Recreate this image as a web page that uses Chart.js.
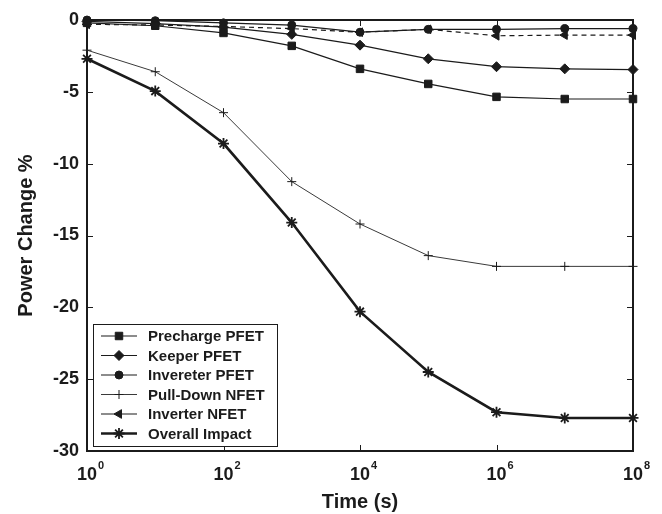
<!DOCTYPE html>
<html>
<head>
<meta charset="utf-8">
<script src="https://cdn.jsdelivr.net/npm/chart.js@4.4.1/dist/chart.umd.min.js"></script>
<style>
  html, body { margin: 0; padding: 0; background: #fff; }
</style>
</head>
<body>
<canvas id="powerchart" width="662" height="514"></canvas>
<script>
// time points, one per decade (s)
var timeSec = [1, 1e1, 1e2, 1e3, 1e4, 1e5, 1e6, 1e7, 1e8];

// power change in % for each device
var prechargePFET = [-0.2, -0.4, -0.9, -1.8, -3.4, -4.45, -5.35, -5.5, -5.5];
var keeperPFET    = [-0.1, -0.25, -0.5, -1.0, -1.75, -2.7, -3.25, -3.4, -3.45];
var invereterPFET = [0, -0.05, -0.2, -0.35, -0.85, -0.65, -0.65, -0.6, -0.6];
var pullDownNFET  = [-2.1, -3.6, -6.45, -11.25, -14.2, -16.4, -17.15, -17.15, -17.15];
var inverterNFET  = [-0.3, -0.35, -0.45, -0.6, -0.85, -0.65, -1.1, -1.05, -1.05];
var overallImpact = [-2.7, -4.95, -8.6, -14.1, -20.3, -24.5, -27.3, -27.7, -27.7];

// axis ticks
var xTickExp = [0, 2, 4, 6, 8];
var yTicks = [0, -5, -10, -15, -20, -25, -30];

var ink = '#1b1b1b';
var fontFam = '"Liberation Sans", Arial, sans-serif';

function toPoints(arr) {
  return arr.map(function (v, i) { return { x: timeSec[i], y: v }; });
}

function series(label, data, style) {
  return Object.assign({
    label: label,
    data: toPoints(data),
    borderColor: ink,
    backgroundColor: ink,
    pointBackgroundColor: ink,
    pointBorderColor: ink,
    borderWidth: 1.2,
    pointBorderWidth: 1,
    pointRadius: 4,
    pointHoverRadius: 4,
    pointRotation: 0,
    tension: 0,
    clip: false
  }, style);
}

var datasets = [
  series('Precharge PFET', prechargePFET, { pointStyle: 'rect', pointRadius: 5.3 }),
  series('Keeper PFET', keeperPFET, { pointStyle: 'rectRot', pointRadius: 5 }),
  series('Invereter PFET', invereterPFET, { pointStyle: 'circle', pointRadius: 4 }),
  series('Pull-Down NFET', pullDownNFET, { pointStyle: 'cross', pointRadius: 4.5, borderWidth: 1, borderColor: '#3a3a3a' }),
  series('Inverter NFET', inverterNFET, { pointStyle: 'triangle', pointRadius: 5, pointRotation: -90, borderDash: [5, 4] }),
  series('Overall Impact', overallImpact, { pointStyle: 'star', pointRadius: 5.5, pointBorderWidth: 1.8, borderWidth: 2.6 })
];

// draws one marker the same way the library does
function marker(ctx, ds, x, y) {
  ctx.save();
  ctx.fillStyle = ink;
  ctx.strokeStyle = ink;
  ctx.lineWidth = ds.pointBorderWidth;
  var opts = { pointStyle: ds.pointStyle, radius: ds.pointRadius, rotation: ds.pointRotation, borderWidth: ds.pointBorderWidth };
  if (Chart.helpers && Chart.helpers.drawPoint) {
    Chart.helpers.drawPoint(ctx, opts, x, y);
  } else {
    ctx.beginPath();
    ctx.arc(x, y, ds.pointRadius, 0, Math.PI * 2);
    ctx.fill();
  }
  ctx.restore();
}

// box frame, inward ticks, x labels with exponents, boxed legend
var framePlugin = {
  id: 'framePlugin',
  beforeDatasetsDraw: function (chart) {
    var ctx = chart.ctx, a = chart.chartArea;
    var xs = chart.scales.x, ys = chart.scales.y;
    ctx.save();
    ctx.strokeStyle = ink;
    ctx.lineWidth = 1;
    xTickExp.forEach(function (e) {
      var px = Math.round(xs.getPixelForValue(Math.pow(10, e))) + 0.5;
      ctx.beginPath();
      ctx.moveTo(px, a.bottom); ctx.lineTo(px, a.bottom - 6);
      ctx.moveTo(px, a.top); ctx.lineTo(px, a.top + 6);
      ctx.stroke();
    });
    yTicks.forEach(function (v) {
      var py = Math.round(ys.getPixelForValue(v)) + 0.5;
      ctx.beginPath();
      ctx.moveTo(a.left, py); ctx.lineTo(a.left + 6, py);
      ctx.moveTo(a.right, py); ctx.lineTo(a.right - 6, py);
      ctx.stroke();
    });
    ctx.lineWidth = 2;
    ctx.strokeRect(a.left, a.top, a.right - a.left, a.bottom - a.top);
    ctx.restore();
  },
  afterDraw: function (chart) {
    var ctx = chart.ctx, a = chart.chartArea;
    var xs = chart.scales.x;
    ctx.save();
    ctx.fillStyle = ink;
    ctx.textBaseline = 'alphabetic';
    xTickExp.forEach(function (e) {
      var px = xs.getPixelForValue(Math.pow(10, e));
      ctx.font = 'bold 18px ' + fontFam;
      ctx.textAlign = 'center';
      var w = ctx.measureText('10').width;
      ctx.fillText('10', px, a.bottom + 29);
      ctx.font = 'bold 11px ' + fontFam;
      ctx.textAlign = 'left';
      ctx.fillText(String(e), px + w / 2 + 1, a.bottom + 18);
    });

    // legend, solid sample lines
    var box = { left: 93, top: 324, width: 184, height: 122 };
    ctx.fillStyle = '#fff';
    ctx.fillRect(box.left, box.top, box.width, box.height);
    ctx.strokeStyle = ink;
    ctx.lineWidth = 1;
    ctx.strokeRect(box.left + 0.5, box.top + 0.5, box.width, box.height);
    chart.data.datasets.forEach(function (ds, i) {
      var y = box.top + 12 + i * 19.5;
      ctx.save();
      ctx.strokeStyle = ds.borderColor;
      ctx.lineWidth = ds.borderWidth;
      ctx.beginPath();
      ctx.moveTo(box.left + 8, y);
      ctx.lineTo(box.left + 44, y);
      ctx.stroke();
      ctx.restore();
      marker(ctx, ds, box.left + 26, y);
      ctx.fillStyle = ink;
      ctx.font = 'bold 15px ' + fontFam;
      ctx.textAlign = 'left';
      ctx.textBaseline = 'middle';
      ctx.fillText(ds.label, box.left + 55, y + 1);
    });
    ctx.restore();
  }
};

var ctx1 = document.getElementById('powerchart');
var powerchart = new Chart(ctx1, {
  type: 'line',
  data: { datasets: datasets },
  options: {
    responsive: false,
    animation: false,
    devicePixelRatio: 1,
    layout: { padding: { top: 20, right: 29, left: 0, bottom: 0 } },
    plugins: { legend: { display: false }, tooltip: { enabled: false } },
    scales: {
      x: {
        type: 'logarithmic',
        min: 1,
        max: 1e8,
        border: { display: false },
        grid: { display: false, drawTicks: false },
        ticks: { display: false },
        afterFit: function (s) { s.height = 63; },
        title: {
          display: true,
          text: 'Time (s)',
          color: ink,
          font: { family: fontFam, size: 20, weight: 'bold' },
          padding: { top: 0, bottom: 0 }
        }
      },
      y: {
        type: 'linear',
        min: -30,
        max: 0,
        border: { display: false },
        grid: { display: false, drawTicks: false },
        afterBuildTicks: function (s) { s.ticks = yTicks.map(function (v) { return { value: v }; }); },
        afterFit: function (s) { s.width = 87; },
        ticks: {
          color: ink,
          padding: 8,
          font: { family: fontFam, size: 18, weight: 'bold' }
        },
        title: {
          display: true,
          text: 'Power Change %',
          color: ink,
          font: { family: fontFam, size: 20, weight: 'bold' },
          padding: { top: 14, bottom: 0 }
        }
      }
    }
  },
  plugins: [framePlugin]
});
</script>
</body>
</html>
